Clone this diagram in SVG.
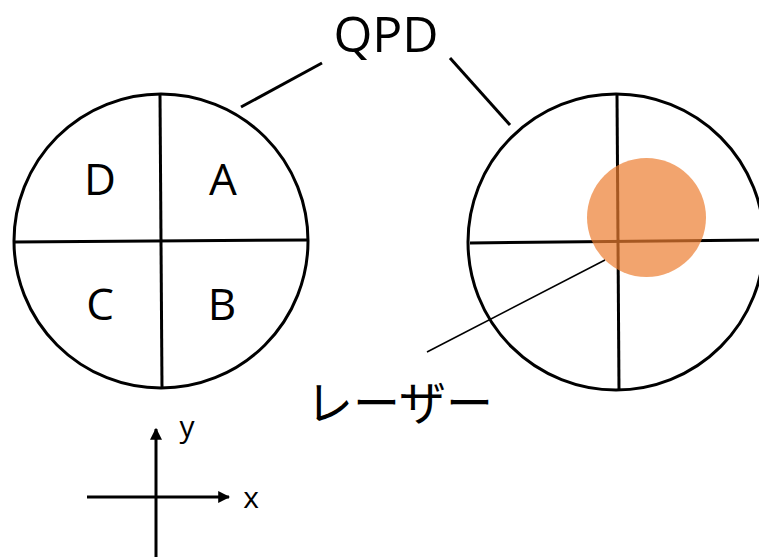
<svg xmlns="http://www.w3.org/2000/svg" width="759" height="557" viewBox="0 0 759 557">
<style>
.ln{stroke:#000;stroke-width:3;fill:none;stroke-linecap:butt}
.circ{stroke:#000;stroke-width:3;fill:#fff}
.lbl{font-family:"Open Sans","Noto Sans",sans-serif;fill:#000}
</style>
<defs>
<marker id="ah" viewBox="0 0 10 10" refX="9" refY="5" markerWidth="4" markerHeight="4" orient="auto" markerUnits="strokeWidth">
<path d="M0,0 L10,5 L0,10 z" fill="#000"/>
</marker>
</defs>
<rect width="759" height="557" fill="#fff"/>
<g id="qpd-left">
<circle class="circ" cx="161" cy="241" r="147"/>
<line class="ln" x1="160" y1="94" x2="162" y2="388"/>
<line class="ln" x1="14" y1="242" x2="308" y2="240"/>
<text class="lbl" x="100" y="195" font-size="44" text-anchor="middle">D</text>
<text class="lbl" x="223" y="195" font-size="44" text-anchor="middle">A</text>
<text class="lbl" x="100" y="320" font-size="44" text-anchor="middle">C</text>
<text class="lbl" x="222" y="320" font-size="44" text-anchor="middle">B</text>
</g>
<g id="qpd-right">
<circle class="circ" cx="616" cy="242" r="148"/>
<line class="ln" x1="617" y1="94" x2="619" y2="390"/>
<line class="ln" x1="470" y1="243" x2="764" y2="240"/>
<circle id="laser-spot" cx="646.5" cy="217.5" r="59.5" fill="#ED7D31" fill-opacity="0.7"/>
</g>
<g id="title">
<text class="lbl" x="386" y="52" font-size="50" text-anchor="middle">QPD</text>
</g>
<g id="laser-label">
<text x="306" y="420" font-size="47" font-family="'Noto Sans CJK JP',sans-serif" fill="#000">レーザー</text>
</g>
<g id="axes">
<line class="ln" x1="156" y1="557" x2="156" y2="429" marker-end="url(#ah)"/>
<line class="ln" x1="87" y1="497" x2="229" y2="497" marker-end="url(#ah)"/>
<text class="lbl" x="187" y="437" font-size="30" text-anchor="middle">y</text>
<text class="lbl" x="251" y="508" font-size="30" text-anchor="middle">x</text>
</g>
<g id="connectors">
<line class="ln" x1="241" y1="107" x2="322" y2="63"/>
<line class="ln" x1="450" y1="58" x2="510" y2="125"/>
<line x1="605" y1="260" x2="427" y2="352" stroke="#000" stroke-width="1.5"/>
</g>
</svg>
